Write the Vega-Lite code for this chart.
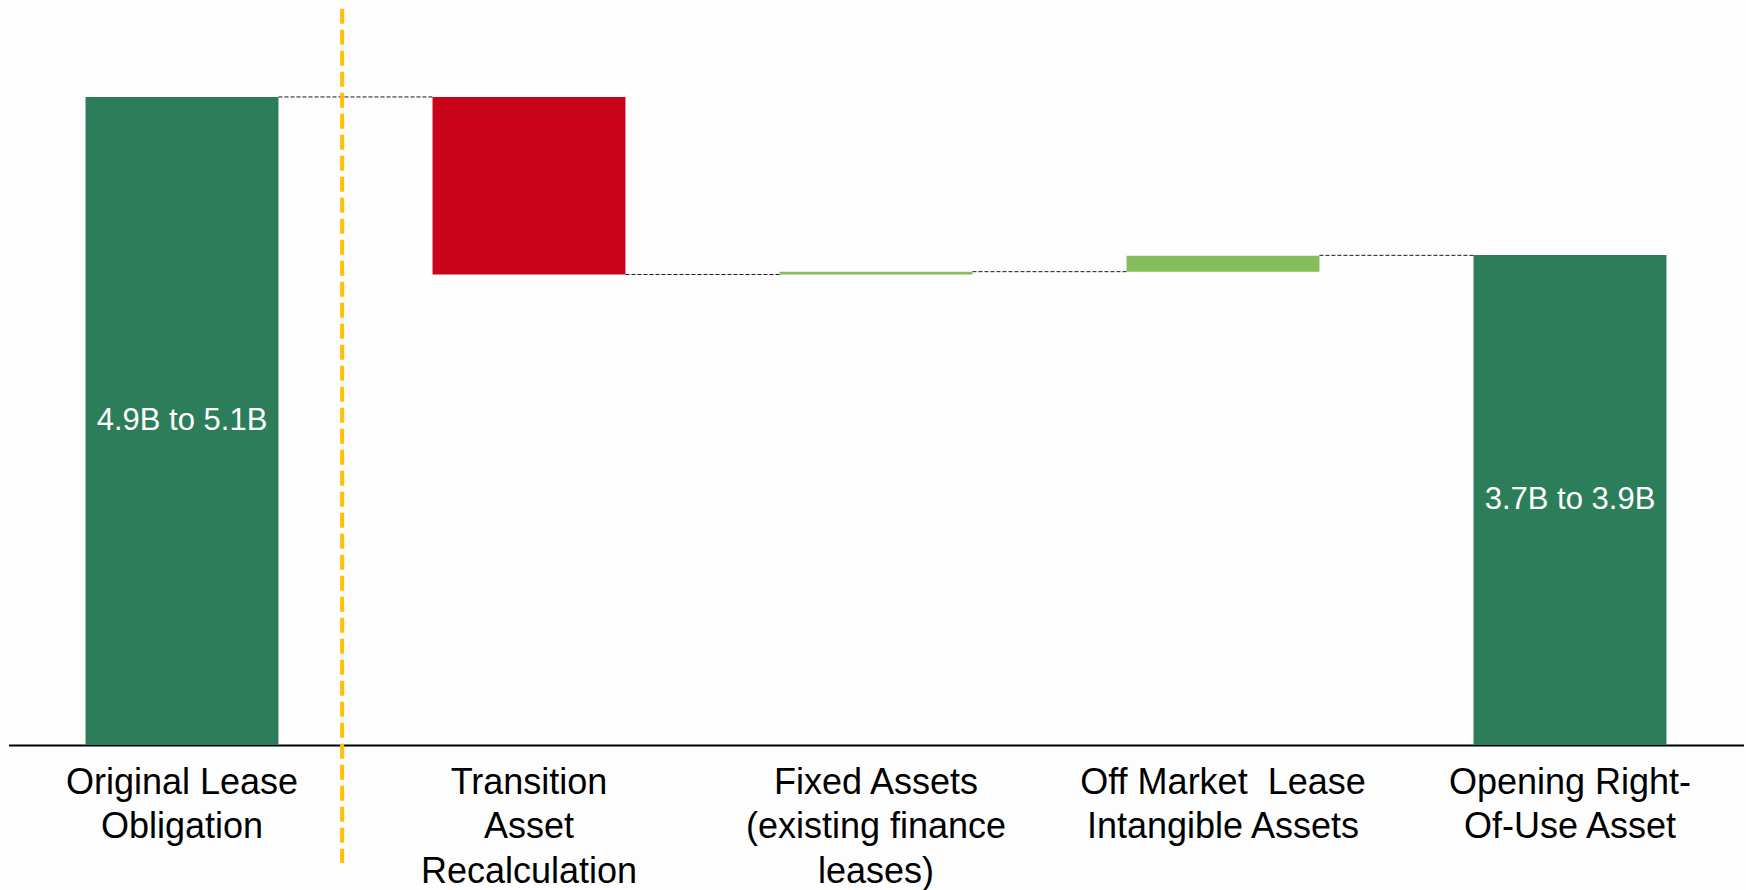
{
  "$schema": "https://vega.github.io/schema/vega-lite/v6.json",
  "autosize": "none",
  "width": 1735,
  "height": 745,
  "padding": {"left": 8.5, "top": 0, "right": 2.5, "bottom": 145},
  "background": "#fdfdfd",
  "config": {
    "view": {"stroke": null},
    "axisY": {"domain": false, "ticks": false, "labels": false, "grid": false, "title": null}
  },
  "datasets": {
    "steps": [
      {"step": "Original Lease Obligation", "start": 0, "end": 5.0, "kind": "total", "label": "4.9B to 5.1B"},
      {"step": "Transition Asset Recalculation", "start": 5.0, "end": 3.63, "kind": "decrease", "label": ""},
      {"step": "Fixed Assets (existing finance leases)", "start": 3.63, "end": 3.652, "kind": "increase", "label": ""},
      {"step": "Off Market Lease Intangible Assets", "start": 3.652, "end": 3.775, "kind": "increase", "label": ""},
      {"step": "Opening Right-Of-Use Asset", "start": 0, "end": 3.78, "kind": "total", "label": "3.7B to 3.9B"}
    ],
    "connectors": [
      {"from": "Original Lease Obligation", "to": "Transition Asset Recalculation", "level": 5.0},
      {"from": "Transition Asset Recalculation", "to": "Fixed Assets (existing finance leases)", "level": 3.63},
      {"from": "Fixed Assets (existing finance leases)", "to": "Off Market Lease Intangible Assets", "level": 3.652},
      {"from": "Off Market Lease Intangible Assets", "to": "Opening Right-Of-Use Asset", "level": 3.778}
    ],
    "divider": [
      {"after": "Original Lease Obligation", "top": 5.68, "bottom": -0.91}
    ]
  },
  "layer": [
    {
      "data": {"name": "steps"},
      "mark": {"type": "bar"},
      "encoding": {
        "x": {
          "field": "step",
          "type": "nominal",
          "sort": null,
          "title": null,
          "scale": {
            "domain": ["Original Lease Obligation", "Transition Asset Recalculation", "Fixed Assets (existing finance leases)", "Off Market Lease Intangible Assets", "Opening Right-Of-Use Asset"],
            "paddingInner": 0.444,
            "paddingOuter": 0.222
          },
          "axis": {
            "ticks": false,
            "labelAngle": 0,
            "domainColor": "#000000",
            "domainWidth": 2,
            "labelFont": "Liberation Sans",
            "labelFontSize": 36,
            "labelColor": "#000000",
            "labelLineHeight": 44.5,
            "labelPadding": 20,
            "labelLimit": 0,
            "labelOverlap": false,
            "labelExpr": "{'Original Lease Obligation': ['Original Lease', 'Obligation'], 'Transition Asset Recalculation': ['Transition', 'Asset', 'Recalculation'], 'Fixed Assets (existing finance leases)': ['Fixed Assets', '(existing finance', 'leases)'], 'Off Market Lease Intangible Assets': ['Off Market\u00a0 Lease', 'Intangible Assets'], 'Opening Right-Of-Use Asset': ['Opening Right-', 'Of-Use Asset']}[datum.value]"
          }
        },
        "y": {
          "field": "start",
          "type": "quantitative",
          "title": null,
          "scale": {"domain": [0, 5.748], "nice": false, "zero": true}
        },
        "y2": {"field": "end"},
        "color": {
          "field": "kind",
          "type": "nominal",
          "scale": {"domain": ["total", "decrease", "increase"], "range": ["#2c7d5a", "#c8031a", "#87be5c"]},
          "legend": null
        }
      }
    },
    {
      "data": {"name": "connectors"},
      "mark": {"type": "rule", "color": "#1a1a1a", "strokeWidth": 1, "strokeDash": [4, 2]},
      "encoding": {
        "x": {"field": "from", "type": "nominal", "title": null, "bandPosition": 1},
        "x2": {"field": "to", "bandPosition": 0},
        "y": {"field": "level", "type": "quantitative", "title": null}
      }
    },
    {
      "data": {"name": "steps"},
      "transform": [{"calculate": "(datum.start + datum.end) / 2", "as": "mid"}],
      "mark": {"type": "text", "color": "#ffffff", "font": "Liberation Sans", "fontSize": 31, "baseline": "middle", "align": "center"},
      "encoding": {
        "x": {"field": "step", "type": "nominal", "title": null},
        "y": {"field": "mid", "type": "quantitative", "title": null},
        "text": {"field": "label"}
      }
    },
    {
      "data": {"name": "divider"},
      "mark": {"type": "rule", "color": "#ffc000", "strokeWidth": 4, "strokeDash": [15, 6], "clip": false},
      "encoding": {
        "x": {"field": "after", "type": "nominal", "title": null, "bandPosition": 1.33},
        "y": {"field": "top", "type": "quantitative", "title": null},
        "y2": {"field": "bottom"}
      }
    }
  ]
}
